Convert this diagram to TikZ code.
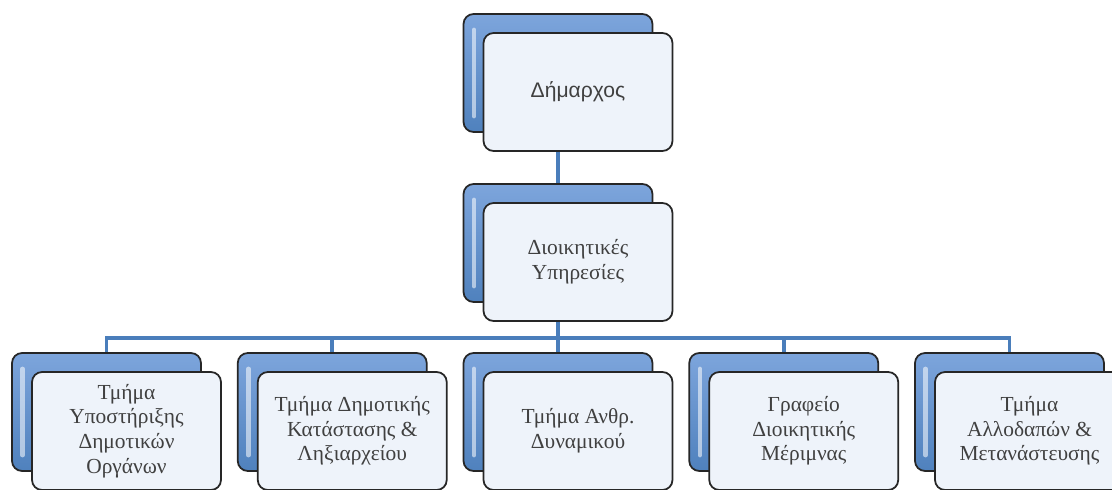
\documentclass[tikz,border=0pt]{standalone}
\usepackage{fontspec}
\setmainfont{Liberation Serif}
\newfontfamily\sansgr{Liberation Sans}
\definecolor{linkblue}{RGB}{74,126,187}
\definecolor{boxtop}{RGB}{125,165,220}
\definecolor{boxbottom}{RGB}{79,129,189}
\definecolor{frontfill}{RGB}{238,243,250}
\definecolor{textgray}{RGB}{64,64,64}
\def\boxw{3.78cm}
\def\boxh{2.36cm}
\def\colsep{225.75}

\begin{document}
\begin{tikzpicture}[x=0.02cm,y=-0.02cm]
    \tikzstyle{box}=[rectangle,rounded corners=0.2cm,draw=black!85,line width=1pt,minimum width=\boxw,minimum height=\boxh,inner sep=0pt]
    \tikzstyle{back box}=[box,top color=boxtop,bottom color=boxbottom,
      path picture={\draw[white,opacity=.55,line width=2.5pt,line cap=round]
        ([xshift=6pt,yshift=-9pt]path picture bounding box.north west) --
        ([xshift=6pt,yshift=9pt]path picture bounding box.south west);}]
    \tikzstyle{front box}=[box,fill=frontfill,align=center,text=textgray,font=\fontsize{12.2}{14}\selectfont]
    \tikzstyle{link}=[draw=linkblue,line width=2.2pt]

    \useasboundingbox (0,0) rectangle (1112,490);
    \clip (0,0) rectangle (1112,490);

    % Draw the back boxes
    \node[back box] (boss-back) at (558,73) {};
    \node[back box] (admin-back) at (558,243) {};
    \foreach \i in {1,...,5}
        \node[back box] (dept-back-\i) at (106.5+\colsep*\i-\colsep,412) {};

    % Connect the levels
    \coordinate (bus) at (558,338);
    \draw[link] (boss-back) -- (admin-back);
    \draw[link] (admin-back) -- (bus);
    \foreach \i in {1,...,5}
        \draw[link] (bus) -| (dept-back-\i);

    % Draw the front boxes with the texts
    \node[front box,font=\sansgr\fontsize{12}{14}\selectfont] (boss)
        at ([shift={(20,19)}]boss-back) {Δήμαρχος};
    \node[front box] (admin) at ([shift={(20,19)}]admin-back) {Διοικητικές\\Υπηρεσίες};
    \foreach \i / \name in {1/{Τμήμα\\Υποστήριξης\\Δημοτικών\\Οργάνων},
                            2/{Τμήμα Δημοτικής\\Κατάστασης \&\\Ληξιαρχείου},
                            3/{Τμήμα Ανθρ.\\Δυναμικού},
                            4/{Γραφείο\\Διοικητικής\\Μέριμνας},
                            5/{Τμήμα\\Αλλοδαπών \&\\Μετανάστευσης}}
        \node[front box] (dept-\i) at ([shift={(20,19)}]dept-back-\i) {\name};
\end{tikzpicture}
\end{document}
